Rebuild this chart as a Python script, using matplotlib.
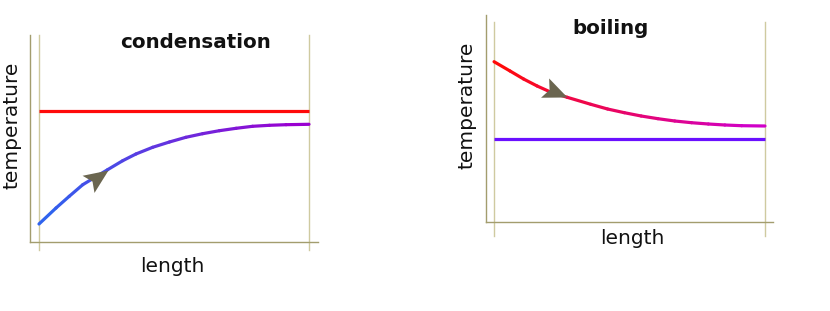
import numpy as np
import matplotlib.pyplot as plt
from matplotlib.collections import LineCollection
from matplotlib.colors import to_rgb
from matplotlib.markers import MarkerStyle
from matplotlib.path import Path
from matplotlib.transforms import Affine2D

# condensation: cold fluid heats up along the tube, hot side stays constant
condLength = [0.0, 0.063, 0.112, 0.162, 0.254, 0.31, 0.359, 0.421, 0.483,
              0.544, 0.606, 0.668, 0.73, 0.791, 0.853, 0.915, 1.0]
condCold = [18, 34, 45.7, 57.3, 72.3, 81.3, 88, 94.7, 100,
            104.7, 108.3, 111.3, 113.7, 115.7, 116.7, 117.3, 117.7]
condHot = [131, 131]

# boiling: hot fluid cools down, boiling side stays constant
boilLength = [0.0, 0.059, 0.109, 0.159, 0.208, 0.27, 0.357, 0.419, 0.481,
              0.543, 0.605, 0.667, 0.729, 0.791, 0.852, 0.914, 1.0]
boilHot = [160.3, 151, 143, 136, 130, 124.7, 117.7, 113, 109.3,
           106, 103.3, 101, 99.3, 98, 97, 96.3, 96]
boilCold = [83, 83]

spineCol = "#a39d6e"
guideCol = "#cfcaa0"
arrowCol = "#6b6650"
textCol = "#111111"

W, H = 830, 311
fig = plt.figure(figsize=(W / 100, H / 100), dpi=100)


def px_axes(x0, y0, x1, y1):
    return fig.add_axes([x0 / W, 1 - y1 / H, (x1 - x0) / W, (y1 - y0) / H])


def grad_line(ax, x, y, c0, c1, lw=2.3):
    pts = np.column_stack([x, y])
    segs = np.stack([pts[:-1], pts[1:]], axis=1)
    a, b = np.array(to_rgb(c0)), np.array(to_rgb(c1))
    f = np.linspace(0, 1, len(segs))[:, None]
    lc = LineCollection(segs, colors=a + (b - a) * f, linewidths=lw,
                        capstyle="round", joinstyle="round")
    ax.add_collection(lc)


def setup(ax, xpad, guide_top, guide_bot):
    ax.set_xlim(-xpad, 1 + xpad)
    ax.set_ylim(0, 207)
    ax.set_xticks([])
    ax.set_yticks([])
    for s in ["top", "right"]:
        ax.spines[s].set_visible(False)
    for s in ["left", "bottom"]:
        ax.spines[s].set_color(spineCol)
        ax.spines[s].set_linewidth(1.0)
    for gx in [0, 1]:
        ax.plot([gx, gx], [guide_bot, guide_top], color=guideCol, lw=1.0,
                clip_on=False, zorder=1)


# stealth arrow head, tip at the origin, pointing along +x
head = Path([(0, 0), (-1, 0.43), (-0.8, 0), (-1, -0.43), (0, 0)],
            [Path.MOVETO, Path.LINETO, Path.LINETO, Path.LINETO, Path.CLOSEPOLY])


def arrow(ax, tail, tip):
    p0 = ax.transData.transform(tail)
    p1 = ax.transData.transform(tip)
    ang = np.degrees(np.arctan2(p1[1] - p0[1], p1[0] - p0[0]))
    m = MarkerStyle(head, transform=Affine2D().rotate_deg(ang))
    ax.plot([tip[0]], [tip[1]], marker=m, markersize=35, color=arrowCol,
            markeredgewidth=0, linestyle="none", zorder=5)


# left panel
ax1 = px_axes(30, 35, 318, 242)
setup(ax1, 9 / 270, 207, -8)
ax1.plot([0, 1], condHot, color="#ff0a0a", lw=2.3, solid_capstyle="butt")
grad_line(ax1, condLength, condCold, "#2f63ee", "#9a00d0")
arrow(ax1, (condLength[2], condCold[2]), (condLength[4], condCold[4]))

# right panel
ax2 = px_axes(486, 15, 773, 222)
setup(ax2, 8 / 269, 200, -14)
ax2.plot([0, 1], boilCold, color="#6a10ff", lw=2.3, solid_capstyle="butt")
grad_line(ax2, boilLength, boilHot, "#ff0a0a", "#d000c8")
arrow(ax2, (boilLength[2], boilHot[2]), (boilLength[5], boilHot[5]))


def ftext(x, y, s, **kw):
    fig.text(x / W, 1 - y / H, s, ha="center", va="center", color=textCol,
             family="DejaVu Sans", **kw)


ftext(195, 42, "condensation", fontsize=14.3, fontweight="bold")
ftext(610, 28, "boiling", fontsize=14.3, fontweight="bold")
ftext(12, 125, "temperature", fontsize=14.5, rotation=90)
ftext(467, 105, "temperature", fontsize=14.5, rotation=90)
ftext(172, 266, "length", fontsize=14.5)
ftext(632, 239, "length", fontsize=14.5)

fig.savefig("out.png", dpi=100)
